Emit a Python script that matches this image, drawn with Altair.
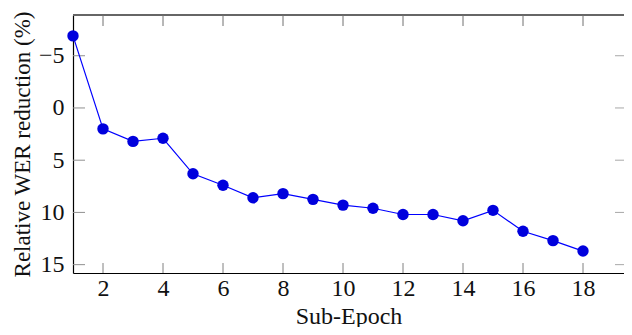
import altair as alt
import pandas as pd

sub_epoch = list(range(1, 19))
wer_reduction = [-6.9, 2.0, 3.2, 2.9, 6.3, 7.4, 8.6, 8.2, 8.75, 9.3, 9.6, 10.2, 10.2, 10.8, 9.8, 11.8, 12.7, 13.7]
x_ticks = [2, 4, 6, 8, 10, 12, 14, 16, 18]
y_ticks = [-5, 0, 5, 10, 15]

df = pd.DataFrame({"x": sub_epoch, "y": wer_reduction})
xt = pd.DataFrame({"x": x_ticks})
yt = pd.DataFrame({"y": y_ticks})

FONT = "Liberation Serif"
FS = 24
W, H = 551, 258

xs = alt.Scale(domain=[1, 1 + W / 30.0], nice=False, zero=False)
ys = alt.Scale(domain=[-8.9, 15.8], nice=False, zero=False, reverse=True)

x_axis = alt.Axis(values=x_ticks, orient="bottom", domain=True, domainColor="#000",
                  domainWidth=1.2, ticks=False, tickSize=0, grid=False,
                  labelPadding=3, labelFont=FONT, labelFontSize=FS,
                  labelColor="#111", titleFont=FONT, titleFontSize=FS,
                  titleFontWeight="normal", titleColor="#111", titlePadding=4)
y_axis = alt.Axis(values=y_ticks, orient="left", domain=True, domainColor="#000",
                  domainWidth=1.2, ticks=False, tickSize=0, grid=False,
                  labelPadding=9, labelFont=FONT, labelFontSize=FS,
                  labelColor="#111", titleFont=FONT, titleFontSize=23,
                  titleFontWeight="normal", titleColor="#111", titlePadding=4)

xe = alt.X("x:Q", scale=xs, title="Sub-Epoch", axis=x_axis)
ye = alt.Y("y:Q", scale=ys, title="Relative WER reduction (%)", axis=y_axis)

line = alt.Chart(df).mark_line(color="#0000ff", strokeWidth=1.2).encode(x=xe, y=ye)
pts = alt.Chart(df).mark_circle(size=130, color="#0000dd", opacity=1).encode(x=xe, y=ye)

top_border = alt.Chart(df).mark_rule(color="#666", strokeWidth=1.8).encode(
    x=alt.value(0), x2=alt.value(W), y=alt.value(0))

top_ticks = alt.Chart(xt).mark_rule(color="#707070", strokeWidth=1).encode(
    x=xe, y=alt.value(0), y2=alt.value(11))
bottom_ticks = alt.Chart(xt).mark_rule(color="#808080", strokeWidth=1).encode(
    x=xe, y=alt.value(H - 10), y2=alt.value(H))
left_ticks = alt.Chart(yt).mark_rule(color="#909090", strokeWidth=1).encode(
    y=ye, x=alt.value(0), x2=alt.value(12))
right_ticks = alt.Chart(yt).mark_rule(color="#a8a8a8", strokeWidth=1).encode(
    y=ye, x=alt.value(W - 9), x2=alt.value(W))

chart = (
    alt.layer(top_border, top_ticks, bottom_ticks, left_ticks, right_ticks, line, pts)
    .properties(width=W, height=H, autosize=alt.AutoSizeParams(type="none"),
                padding={"left": 65, "top": 7, "right": 0, "bottom": 54})
    .configure_view(stroke=None)
)

chart.save("out.html", embed_options={"renderer": "svg", "actions": False})
